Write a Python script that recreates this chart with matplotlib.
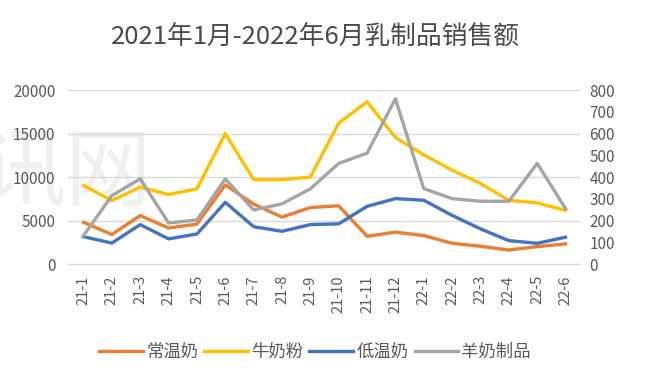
import matplotlib
matplotlib.use('Agg')
import matplotlib.pyplot as plt

plt.rcParams['font.family'] = ['Noto Sans CJK SC', 'DejaVu Sans']

months = ['21-1', '21-2', '21-3', '21-4', '21-5', '21-6', '21-7', '21-8', '21-9',
          '21-10', '21-11', '21-12', '22-1', '22-2', '22-3', '22-4', '22-5', '22-6']

# left axis
changwen = [4800, 3400, 5580, 4150, 4600, 9100, 6900, 5400, 6500,
            6700, 3200, 3670, 3280, 2390, 2050, 1620, 2010, 2320]
naifen = [9040, 7300, 8850, 8000, 8650, 15000, 9700, 9700, 10000,
          16200, 18650, 14550, 12550, 10800, 9270, 7340, 7030, 6180]
diwen = [3150, 2420, 4540, 2900, 3460, 7100, 4300, 3770, 4540,
         4630, 6640, 7530, 7340, 5600, 4050, 2700, 2390, 3090]
# right axis
yangnai = [131, 315, 392, 189, 203, 392, 249, 277, 346,
           463, 510, 760, 347, 301, 289, 289, 463, 255]

fig = plt.figure(figsize=(6.47, 3.85), dpi=100)
ax = fig.add_axes([0.105, 0.314, 0.791, 0.452])
ax2 = ax.twinx()
ax.patch.set_visible(False)
ax2.patch.set_visible(False)

# faint watermark behind everything
fig.text(0.235, 0.545, '讯网', fontsize=62, color='#f0f0f0', ha='right', va='center', zorder=-5)

x = range(len(months))
lw = 2.4
l1, = ax.plot(x, changwen, color='#ED7D31', lw=lw, label='常温奶')
l2, = ax.plot(x, naifen, color='#FFC000', lw=lw, label='牛奶粉')
l3, = ax.plot(x, diwen, color='#4472C4', lw=lw, label='低温奶')
l4, = ax2.plot(x, yangnai, color='#A5A5A5', lw=lw, label='羊奶制品')

ax.set_xlim(-0.55, len(months) - 0.5)
ax.set_ylim(0, 20000)
ax2.set_ylim(0, 800)
ax.set_yticks(range(0, 20001, 5000))
ax2.set_yticks(range(0, 801, 100))
ax.set_xticks(list(x))
ax.set_xticklabels(months, rotation=90)

ax.grid(axis='y', color='#D9D9D9', lw=1)
ax.set_axisbelow(True)
for a in (ax, ax2):
    for s in a.spines.values():
        s.set_visible(False)
    a.tick_params(length=0, labelsize=11, colors='#595959')
ax.spines['bottom'].set_visible(True)
ax.spines['bottom'].set_color('#D9D9D9')
ax.tick_params(axis='y', pad=9)
ax2.tick_params(axis='y', pad=7)
ax.tick_params(axis='x', pad=8, labelsize=10.5)

fig.suptitle('2021年1月-2022年6月乳制品销售额', x=0.487, y=0.905, va='center',
             fontsize=18.5, color='#4a4a4a')

fig.legend(handles=[l1, l2, l3, l4], loc='center', bbox_to_anchor=(0.487, 0.085), ncol=4,
           frameon=False, fontsize=12.5, labelcolor='#595959', handlelength=2.5,
           handletextpad=0.2, columnspacing=0.35)

fig.savefig('out.png', dpi=100)
